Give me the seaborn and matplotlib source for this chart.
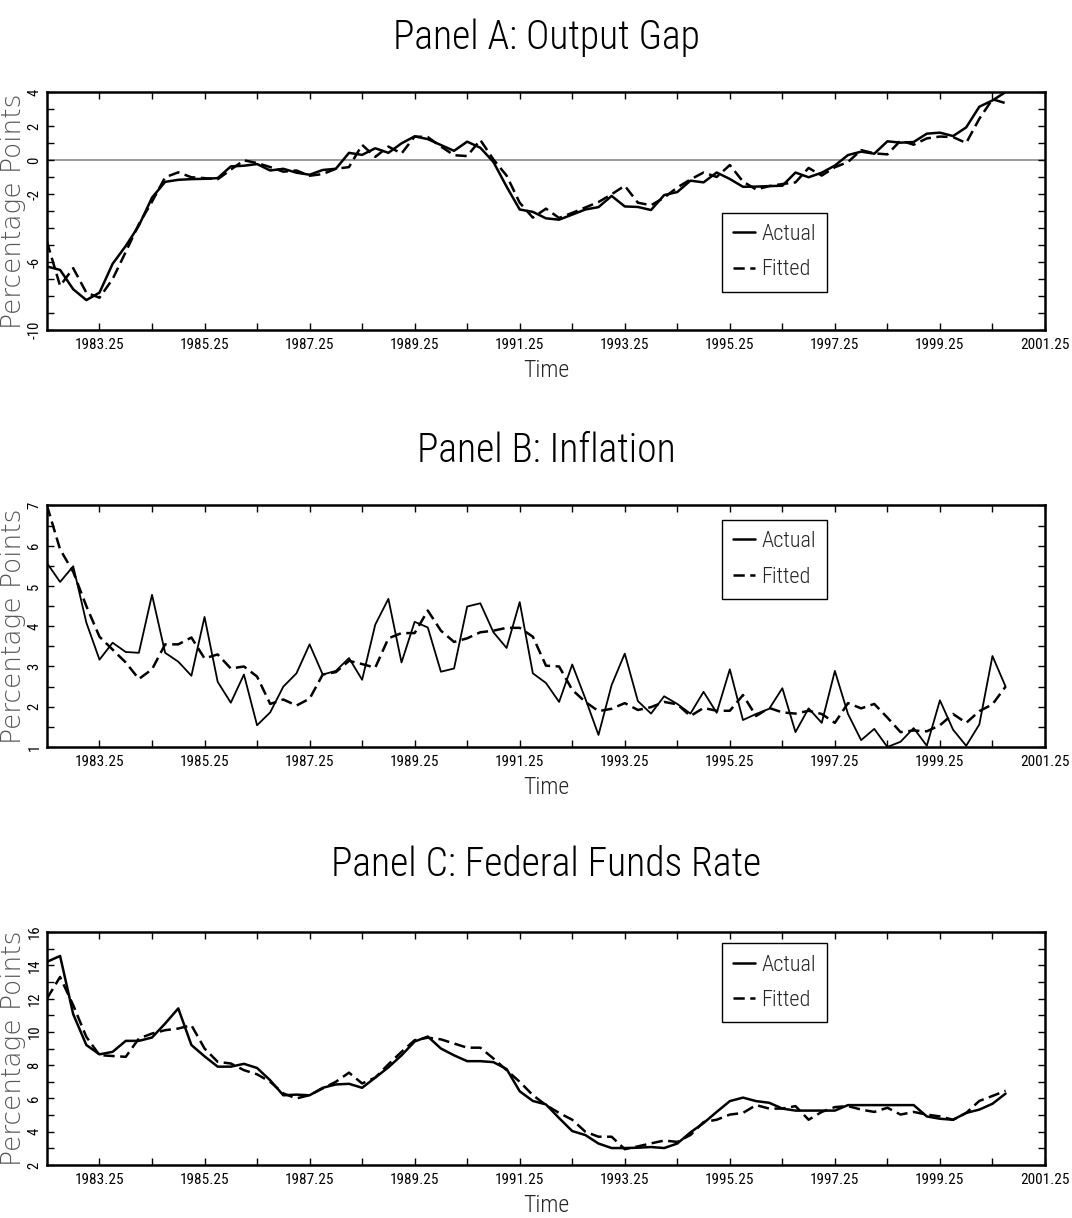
import numpy as np
import pandas as pd
import matplotlib
matplotlib.use('Agg')
import matplotlib.pyplot as plt
import seaborn as sns
from matplotlib import font_manager

# quarterly observations, 1982.25 ... 2000.50
quarters = np.arange(1982.25, 2000.75, 0.25)

gap_actual = [-6.26, -6.46, -7.6, -8.24, -7.8, -6.1, -5.05, -3.85, -2.2, -1.27,
              -1.15, -1.11, -1.09, -1.05, -0.36, -0.32, -0.22, -0.6, -0.5, -0.73,
              -0.85, -0.57, -0.5, 0.44, 0.32, 0.71, 0.44, 1.0, 1.41, 1.25,
              0.9, 0.56, 1.1, 0.74, -0.1, -1.55, -2.9, -3.04, -3.42, -3.5,
              -3.2, -2.9, -2.76, -2.1, -2.72, -2.75, -2.93, -2.05, -1.87, -1.2,
              -1.3, -0.72, -1.1, -1.56, -1.55, -1.52, -1.5, -0.72, -1.0, -0.73,
              -0.31, 0.31, 0.51, 0.39, 1.12, 1.04, 1.08, 1.57, 1.63, 1.43,
              1.94, 3.16, 3.53, 4.02]
gap_fitted = [-4.8, -7.4, -6.36, -7.8, -8.1, -7.0, -5.4, -3.76, -2.44, -1.0,
              -0.71, -1.0, -1.05, -1.12, -0.55, 0.0, -0.16, -0.4, -0.67, -0.6,
              -0.91, -0.81, -0.5, -0.4, 0.91, 0.2, 0.81, 0.4, 1.4, 1.37,
              0.81, 0.3, 0.25, 1.2, 0.05, -0.9, -2.5, -3.38, -2.85, -3.4,
              -3.1, -2.78, -2.46, -2.0, -1.5, -2.5, -2.65, -2.2, -1.6, -1.13,
              -0.72, -0.98, -0.28, -1.25, -1.72, -1.52, -1.4, -1.3, -0.45, -0.9,
              -0.41, -0.1, 0.6, 0.41, 0.35, 1.16, 0.92, 1.29, 1.4, 1.37,
              1.02, 2.45, 3.6, 3.37]

infl_actual = [5.57, 5.10, 5.49, 4.09, 3.17, 3.59, 3.36, 3.34, 4.78, 3.34,
               3.12, 2.77, 4.23, 2.62, 2.10, 2.80, 1.54, 1.86, 2.5, 2.83,
               3.55, 2.80, 2.89, 3.21, 2.67, 4.04, 4.68, 3.10, 4.11, 3.97,
               2.87, 2.95, 4.49, 4.57, 3.85, 3.46, 4.6, 2.83, 2.59, 2.12,
               3.05, 2.2, 1.30, 2.54, 3.32, 2.14, 1.83, 2.26, 2.07, 1.83,
               2.37, 1.85, 2.93, 1.67, 1.82, 1.95, 2.46, 1.37, 1.96, 1.60,
               2.89, 1.82, 1.17, 1.45, 1.0, 1.13, 1.47, 1.03, 2.16, 1.43,
               1.03, 1.56, 3.26, 2.5]
infl_fitted = [7.0, 5.91, 5.35, 4.5, 3.74, 3.42, 3.1, 2.69, 2.93, 3.55,
               3.55, 3.72, 3.2, 3.3, 2.95, 3.0, 2.75, 2.07, 2.18, 2.03,
               2.2, 2.8, 2.86, 3.14, 3.06, 2.97, 3.7, 3.83, 3.83, 4.39,
               3.89, 3.61, 3.7, 3.85, 3.89, 3.96, 3.96, 3.74, 3.02, 3.0,
               2.42, 2.12, 1.89, 1.95, 2.09, 1.92, 1.99, 2.12, 2.06, 1.77,
               1.97, 1.9, 1.9, 2.29, 1.77, 1.97, 1.86, 1.83, 1.9, 1.82,
               1.6, 2.09, 1.96, 2.07, 1.73, 1.37, 1.41, 1.39, 1.54, 1.82,
               1.6, 1.89, 2.06, 2.5]

ffr_actual = [14.21, 14.56, 11.06, 9.21, 8.65, 8.8, 9.46, 9.46, 9.66, 10.5,
              11.41, 9.21, 8.53, 7.91, 7.91, 8.08, 7.83, 7.09, 6.19, 6.23,
              6.19, 6.64, 6.84, 6.88, 6.64, 7.25, 7.87, 8.59, 9.42, 9.72,
              9.0, 8.59, 8.24, 8.24, 8.18, 7.77, 6.43, 5.85, 5.64, 4.82,
              4.04, 3.8, 3.29, 3.02, 3.02, 3.04, 3.08, 3.02, 3.29, 3.96,
              4.52, 5.19, 5.84, 6.05, 5.84, 5.74, 5.39, 5.27, 5.27, 5.27,
              5.27, 5.6, 5.6, 5.6, 5.6, 5.6, 5.6, 4.92, 4.78, 4.72,
              5.13, 5.33, 5.68, 6.29]
ffr_fitted = [12.0, 13.3, 11.6, 9.7, 8.6, 8.55, 8.5, 9.6, 9.9, 10.1,
              10.2, 10.4, 9.0, 8.2, 8.1, 7.7, 7.45, 7.0, 6.3, 6.0,
              6.2, 6.6, 7.0, 7.55, 6.9, 7.25, 8.05, 8.8, 9.5, 9.65,
              9.55, 9.3, 9.05, 9.05, 8.4, 7.7, 7.0, 6.2, 5.6, 5.13,
              4.72, 4.0, 3.7, 3.7, 2.95, 3.12, 3.3, 3.47, 3.39, 3.8,
              4.58, 4.72, 5.03, 5.13, 5.6, 5.39, 5.39, 5.54, 4.72, 5.19,
              5.48, 5.54, 5.33, 5.19, 5.44, 5.03, 5.19, 5.03, 4.92, 4.72,
              5.13, 5.85, 6.15, 6.46]

titles = ['Panel A: Output Gap', 'Panel B: Inflation', 'Panel C: Federal Funds Rate']
year_ticks = np.arange(1983.25, 2001.5, 1.0)
gap_labels = [4, 2, 0, -2, -6, -10]
infl_labels = [1, 2, 3, 4, 5, 6, 7]
ffr_labels = [2, 4, 6, 8, 10, 12, 14, 16]


def pick_font(candidates):
    installed = {f.name for f in font_manager.fontManager.ttflist}
    for name in candidates:
        if name in installed:
            return name
    return 'DejaVu Sans'


NARROW = pick_font(['Liberation Sans Narrow', 'DejaVu Sans Condensed',
                    'Roboto Condensed', 'Open Sans Condensed'])

sns.set_style('ticks')
plt.rcParams['font.family'] = [NARROW, 'DejaVu Sans']
plt.rcParams['axes.unicode_minus'] = False


def draw_panel(ax, title, actual, fitted, ylim, tick_step, labelled,
               legend_top, title_pad, actual_lw=1.8):
    n = len(quarters)
    df = pd.DataFrame({
        'Time': np.concatenate([quarters, quarters]),
        'Value': np.concatenate([actual, fitted]),
        'Series': ['Actual'] * n + ['Fitted'] * n,
    })
    sns.lineplot(data=df, x='Time', y='Value', style='Series',
                 dashes={'Actual': '', 'Fitted': (4.5, 2.2)},
                 color='black', linewidth=1.8, ax=ax)
    ax.lines[0].set_linewidth(actual_lw)

    ax.set_xlim(1982.25, 2001.25)
    ax.set_ylim(*ylim)

    # labelled ticks are major, the rest are minor ticks of the same length
    ax.set_xticks(year_ticks[::2])
    ax.set_xticklabels([f'{y:.2f}' for y in year_ticks[::2]])
    ax.set_xticks(year_ticks[1::2], minor=True)
    yt = np.arange(ylim[0], ylim[1] + tick_step / 2, tick_step)
    ax.set_yticks(sorted(labelled))
    ax.set_yticklabels([f'{v:g}' for v in sorted(labelled)],
                       rotation=90, va='center')
    ax.set_yticks([v for v in yt if v not in labelled], minor=True)

    ax.tick_params(which='both', direction='in', top=True, right=True,
                   length=5, width=1, colors='black')
    ax.tick_params(axis='x', labelsize=11, pad=6)
    ax.tick_params(axis='y', labelsize=10.5, pad=4)
    for sp in ax.spines.values():
        sp.set_linewidth(1.8)
        sp.set_color('black')

    ax.set_xlabel('Time', fontsize=17, labelpad=5, fontweight='light')
    ax.set_ylabel('')
    ax.set_title(title, fontsize=28.5, pad=title_pad, color='black',
                 fontweight='light')

    handles, labels = ax.get_legend_handles_labels()
    keep = [(h, l) for h, l in zip(handles, labels) if l in ('Actual', 'Fitted')]
    leg = ax.legend([h for h, _ in keep], [l for _, l in keep],
                    loc='upper left', bbox_to_anchor=(0.676, legend_top),
                    borderaxespad=0, frameon=True, fancybox=False,
                    edgecolor='black', framealpha=1,
                    prop={'size': 16, 'weight': 'light'},
                    handlelength=1.0, handletextpad=0.3, borderpad=0.5,
                    labelspacing=0.65)
    leg.get_frame().set_linewidth(1.0)


fig = plt.figure(figsize=(10.72, 12.18), dpi=100)
boxes = [[0.0438, 0.7291, 0.931, 0.1950],
         [0.0438, 0.3867, 0.931, 0.1983],
         [0.0438, 0.0435, 0.931, 0.1913]]
axes = [fig.add_axes(b) for b in boxes]

draw_panel(axes[0], titles[0], gap_actual, gap_fitted, (-10, 4), 1,
           gap_labels, 0.493, 31)
axes[0].axhline(0, color='#808080', linewidth=1.1, zorder=0)
draw_panel(axes[1], titles[1], infl_actual, infl_fitted, (1, 7), 0.5,
           infl_labels, 0.94, 31, actual_lw=1.3)
draw_panel(axes[2], titles[2], ffr_actual, ffr_fitted, (2, 16), 1,
           ffr_labels, 0.951, 40)

for ax, b in zip(axes, boxes):
    fig.text(0.0125, b[1] + b[3] / 2, 'Percentage Points', rotation=90,
             ha='center', va='center', fontsize=19, color='#555555',
             family='DejaVu Sans', fontweight='light')

fig.savefig('out.png', dpi=100)
